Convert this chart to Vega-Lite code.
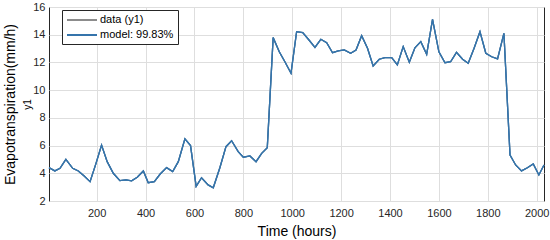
{
  "$schema": "https://vega.github.io/schema/vega-lite/v6.json",
  "width": 495,
  "height": 194,
  "autosize": {"type": "none"},
  "padding": {"left": 49, "top": 7, "right": 6, "bottom": 39},
  "background": "white",
  "config": {
    "font": "Liberation Sans",
    "view": {"stroke": "#262626", "strokeWidth": 1},
    "axis": {"domain": false, "ticks": false, "gridColor": "#dedede", "gridWidth": 1, "labelColor": "#262626", "titleColor": "#000000", "labelFont": "Liberation Sans", "titleFont": "Liberation Sans", "titleFontWeight": "normal", "labelFontSize": 11}
  },
  "data": {
    "values": [
      {"t": 5, "data": 4.41, "model": 4.41},
      {"t": 29, "data": 4.17, "model": 4.17},
      {"t": 50, "data": 4.36, "model": 4.36},
      {"t": 74, "data": 5.01, "model": 5.01},
      {"t": 102, "data": 4.36, "model": 4.36},
      {"t": 125, "data": 4.17, "model": 4.17},
      {"t": 149, "data": 3.8, "model": 3.8},
      {"t": 173, "data": 3.4, "model": 3.4},
      {"t": 197, "data": 4.7, "model": 4.7},
      {"t": 220, "data": 6.04, "model": 6.04},
      {"t": 243, "data": 4.84, "model": 4.84},
      {"t": 268, "data": 4.0, "model": 4.0},
      {"t": 295, "data": 3.47, "model": 3.47},
      {"t": 320, "data": 3.52, "model": 3.52},
      {"t": 343, "data": 3.45, "model": 3.45},
      {"t": 366, "data": 3.71, "model": 3.71},
      {"t": 391, "data": 4.17, "model": 4.17},
      {"t": 411, "data": 3.32, "model": 3.32},
      {"t": 436, "data": 3.4, "model": 3.4},
      {"t": 459, "data": 3.93, "model": 3.93},
      {"t": 486, "data": 4.41, "model": 4.41},
      {"t": 511, "data": 4.12, "model": 4.12},
      {"t": 534, "data": 4.84, "model": 4.84},
      {"t": 561, "data": 6.48, "model": 6.48},
      {"t": 584, "data": 6.0, "model": 6.0},
      {"t": 607, "data": 3.06, "model": 3.06},
      {"t": 629, "data": 3.68, "model": 3.68},
      {"t": 656, "data": 3.16, "model": 3.16},
      {"t": 677, "data": 2.96, "model": 2.96},
      {"t": 704, "data": 4.4, "model": 4.4},
      {"t": 729, "data": 5.92, "model": 5.92},
      {"t": 752, "data": 6.35, "model": 6.35},
      {"t": 779, "data": 5.56, "model": 5.56},
      {"t": 800, "data": 5.16, "model": 5.16},
      {"t": 827, "data": 5.25, "model": 5.25},
      {"t": 852, "data": 4.84, "model": 4.84},
      {"t": 875, "data": 5.44, "model": 5.44},
      {"t": 898, "data": 5.85, "model": 5.85},
      {"t": 922, "data": 13.79, "model": 13.79},
      {"t": 947, "data": 12.77, "model": 12.77},
      {"t": 970, "data": 12.05, "model": 12.05},
      {"t": 995, "data": 11.22, "model": 11.22},
      {"t": 1018, "data": 14.22, "model": 14.22},
      {"t": 1043, "data": 14.15, "model": 14.15},
      {"t": 1066, "data": 13.67, "model": 13.67},
      {"t": 1093, "data": 13.09, "model": 13.09},
      {"t": 1117, "data": 13.67, "model": 13.67},
      {"t": 1141, "data": 13.42, "model": 13.42},
      {"t": 1165, "data": 12.7, "model": 12.7},
      {"t": 1188, "data": 12.83, "model": 12.83},
      {"t": 1213, "data": 12.9, "model": 12.9},
      {"t": 1239, "data": 12.66, "model": 12.66},
      {"t": 1261, "data": 12.9, "model": 12.9},
      {"t": 1284, "data": 13.93, "model": 13.93},
      {"t": 1308, "data": 13.02, "model": 13.02},
      {"t": 1331, "data": 11.74, "model": 11.74},
      {"t": 1356, "data": 12.23, "model": 12.23},
      {"t": 1379, "data": 12.34, "model": 12.34},
      {"t": 1407, "data": 12.34, "model": 12.34},
      {"t": 1430, "data": 11.82, "model": 11.82},
      {"t": 1454, "data": 13.14, "model": 13.14},
      {"t": 1479, "data": 12.01, "model": 12.01},
      {"t": 1502, "data": 13.06, "model": 13.06},
      {"t": 1526, "data": 13.5, "model": 13.5},
      {"t": 1550, "data": 12.59, "model": 12.59},
      {"t": 1574, "data": 15.11, "model": 15.11},
      {"t": 1600, "data": 12.77, "model": 12.77},
      {"t": 1625, "data": 11.98, "model": 11.98},
      {"t": 1648, "data": 12.05, "model": 12.05},
      {"t": 1672, "data": 12.73, "model": 12.73},
      {"t": 1697, "data": 12.23, "model": 12.23},
      {"t": 1720, "data": 11.94, "model": 11.94},
      {"t": 1744, "data": 13.02, "model": 13.02},
      {"t": 1768, "data": 14.22, "model": 14.22},
      {"t": 1792, "data": 12.66, "model": 12.66},
      {"t": 1816, "data": 12.41, "model": 12.41},
      {"t": 1840, "data": 12.25, "model": 12.25},
      {"t": 1866, "data": 14.1, "model": 14.1},
      {"t": 1891, "data": 5.32, "model": 5.32},
      {"t": 1914, "data": 4.6, "model": 4.6},
      {"t": 1938, "data": 4.17, "model": 4.17},
      {"t": 1962, "data": 4.4, "model": 4.4},
      {"t": 1986, "data": 4.67, "model": 4.67},
      {"t": 2009, "data": 3.88, "model": 3.88},
      {"t": 2030, "data": 4.6, "model": 4.6}
    ]
  },
  "layer": [
    {
      "transform": [{"fold": ["data", "model"], "as": ["series", "value"]}],
      "mark": {"type": "line", "strokeWidth": 1.3},
      "encoding": {
        "x": {
          "field": "t", "type": "quantitative",
          "scale": {"domain": [5, 2030], "nice": false, "zero": false},
          "axis": {"values": [200, 400, 600, 800, 1000, 1200, 1400, 1600, 1800, 2000], "format": "d", "title": "Time (hours)", "titleFontSize": 14, "labelPadding": 6, "titlePadding": 6, "labelFlush": false}
        },
        "y": {
          "field": "value", "type": "quantitative",
          "scale": {"domain": [2, 16], "nice": false, "zero": false},
          "axis": {"orient": "left", "values": [2, 4, 6, 8, 10, 12, 14, 16], "format": "d", "title": "y1", "titleFontSize": 10, "labelPadding": 4, "titlePadding": 0, "labelFlush": false}
        },
        "color": {
          "field": "series", "type": "nominal",
          "scale": {"domain": ["data", "model"], "range": ["#8c8c8c", "#3574ab"]},
          "legend": {
            "orient": "none", "legendX": 13, "legendY": 3,
            "title": null,
            "labelExpr": "datum.label == 'data' ? 'data (y1)' : 'model: 99.83%'",
            "symbolType": "M-1,0H5", "symbolSize": 100, "symbolStrokeWidth": 2,
            "symbolFillColor": "transparent",
            "labelFontSize": 11, "labelColor": "#000000", "labelOffset": 22,
            "rowPadding": 4, "padding": 4,
            "fillColor": "white", "strokeColor": "#262626"
          }
        }
      }
    },
    {
      "mark": {"type": "line", "strokeWidth": 1.3, "color": "#3574ab"},
      "encoding": {
        "x": {"field": "t", "type": "quantitative"},
        "y": {
          "field": "model", "type": "quantitative",
          "axis": {"orient": "left", "labels": false, "grid": false, "title": "Evapotranspiration(mm/h)", "titleFontSize": 14, "titlePadding": 32}
        }
      }
    }
  ],
  "resolve": {"axis": {"y": "independent"}}
}
